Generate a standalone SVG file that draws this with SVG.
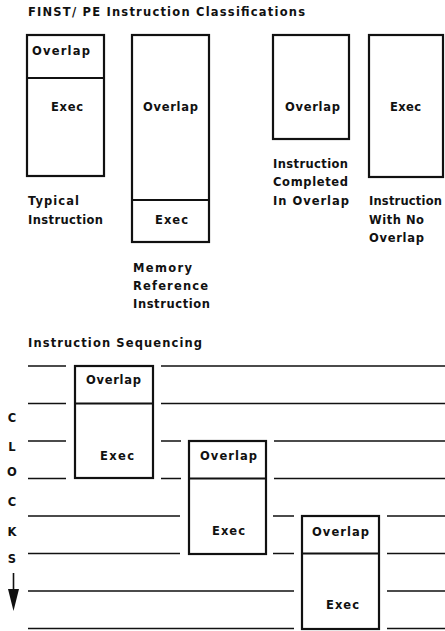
<svg xmlns="http://www.w3.org/2000/svg" width="445" height="631" viewBox="0 0 445 631">
<style>
text{font-family:"DejaVu Sans","Liberation Sans",sans-serif;font-weight:bold;font-size:11.5px;fill:#111}
.c{text-anchor:middle}
.box{fill:none;stroke:#111;stroke-width:2.2}
.ln{stroke:#111;stroke-width:1.6;fill:none}
</style>
<rect width="445" height="631" fill="#fff"/>
<text x="28" y="16" textLength="277" lengthAdjust="spacing">FINST/ PE Instruction Classifications</text>

<g id="typical">
<rect class="box" x="27" y="35" width="77" height="141"/>
<line class="box" x1="27" y1="78" x2="104" y2="78"/>
<text x="32" y="55" textLength="58" lengthAdjust="spacing">Overlap</text>
<text x="51" y="111" textLength="32" lengthAdjust="spacing">Exec</text>
<text x="28" y="205" textLength="51" lengthAdjust="spacing">Typical</text>
<text x="28" y="224" textLength="75" lengthAdjust="spacing">Instruction</text>
</g>
<g id="memref">
<rect class="box" x="132" y="35" width="77" height="207"/>
<line class="box" x1="132" y1="200" x2="209" y2="200"/>
<text x="143" y="111" textLength="55" lengthAdjust="spacing">Overlap</text>
<text x="155" y="224" textLength="33" lengthAdjust="spacing">Exec</text>
<text x="133" y="272" textLength="59" lengthAdjust="spacing">Memory</text>
<text x="133" y="290" textLength="75" lengthAdjust="spacing">Reference</text>
<text x="133" y="308" textLength="77" lengthAdjust="spacing">Instruction</text>
</g>
<g id="completed">
<rect class="box" x="273" y="35" width="76" height="104"/>
<text x="285" y="111" textLength="55" lengthAdjust="spacing">Overlap</text>
<text x="273" y="168" textLength="75" lengthAdjust="spacing">Instruction</text>
<text x="273" y="186" textLength="75" lengthAdjust="spacing">Completed</text>
<text x="273" y="205" textLength="76" lengthAdjust="spacing">In Overlap</text>
</g>
<g id="nooverlap">
<rect class="box" x="369" y="35" width="74" height="142"/>
<text x="390" y="111" textLength="31" lengthAdjust="spacing">Exec</text>
<text x="369" y="205" textLength="73" lengthAdjust="spacing">Instruction</text>
<text x="369" y="224" textLength="55" lengthAdjust="spacing">With No</text>
<text x="369" y="242" textLength="55" lengthAdjust="spacing">Overlap</text>
</g>

<text x="28" y="347" textLength="174" lengthAdjust="spacing">Instruction Sequencing</text>

<g id="clocks">
<text class="c" x="12" y="422">C</text>
<text class="c" x="12" y="451">L</text>
<text class="c" x="12" y="476">O</text>
<text class="c" x="12" y="506">C</text>
<text class="c" x="12" y="536">K</text>
<text class="c" x="12" y="563">S</text>
<line class="ln" x1="13.5" y1="573" x2="13.5" y2="592"/>
<polygon points="8,589 19,589 13.5,611" fill="#111"/>
</g>

<g id="connectors" class="ln">
<path d="M28 366H66M161 366H445"/>
<path d="M28 403.5H66M161 403.5H445"/>
<path d="M28 441H66M161 441H181M274 441H445"/>
<path d="M28 478.5H66M161 478.5H181M274 478.5H445"/>
<path d="M28 516H180M273 516H294M387 516H445"/>
<path d="M28 553.5H180M273 553.5H294M387 553.5H445"/>
<path d="M28 591H294M387 591H445"/>
<path d="M28 628.5H294M387 628.5H445"/>
</g>

<g id="seqA">
<rect class="box" x="75" y="366" width="78" height="112"/>
<line class="box" x1="75" y1="403.5" x2="153" y2="403.5"/>
<text x="86" y="384" textLength="55" lengthAdjust="spacing">Overlap</text>
<text x="100" y="460" textLength="34" lengthAdjust="spacing">Exec</text>
</g>
<g id="seqB">
<rect class="box" x="189" y="441" width="77" height="113"/>
<line class="box" x1="189" y1="478.5" x2="266" y2="478.5"/>
<text x="200" y="460" textLength="57" lengthAdjust="spacing">Overlap</text>
<text x="212" y="535" textLength="33" lengthAdjust="spacing">Exec</text>
</g>
<g id="seqC">
<rect class="box" x="302" y="516" width="77" height="113"/>
<line class="box" x1="302" y1="553.5" x2="379" y2="553.5"/>
<text x="312" y="536" textLength="57" lengthAdjust="spacing">Overlap</text>
<text x="326" y="609" textLength="33" lengthAdjust="spacing">Exec</text>
</g>
</svg>
